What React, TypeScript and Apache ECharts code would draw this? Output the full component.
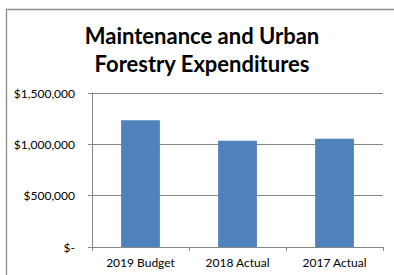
import React, { useEffect, useRef } from "react";
import * as echarts from "echarts";

const categories = ["2019 Budget", "2018 Actual", "2017 Actual"];
const expenditures = [1235000, 1036000, 1055000];
const yTicks = { min: 0, max: 1500000, interval: 500000 };
const titleLines = ["Maintenance and Urban", "Forestry Expenditures"];

const FONT = "Lato, 'Open Sans', sans-serif";

export default function App() {
  const ref = useRef<HTMLDivElement>(null);
  useEffect(() => {
    if (!ref.current) return;
    const chart = echarts.init(ref.current, undefined, { renderer: "svg" });
    chart.setOption({
      animation: false,
      backgroundColor: "#ffffff",
      graphic: [
        {
          type: "polyline",
          shape: { points: [[6.5, 280], [6.5, 9.5], [400, 9.5]] },
          style: { fill: "none", stroke: "#8c8c8c", lineWidth: 1.3 },
          silent: true,
        },
        {
          type: "text",
          x: 202,
          y: 21,
          style: {
            text: titleLines.join("\n"),
            fontFamily: FONT,
            fontWeight: "bold",
            fontSize: 22,
            lineHeight: 28,
            fill: "#000",
            align: "center",
            verticalAlign: "top",
          },
        },
      ],
      grid: { left: 92, right: 11, top: 93, bottom: 28, containLabel: false },
      xAxis: {
        type: "category",
        data: categories,
        axisLine: { show: true, lineStyle: { color: "#868686", width: 1 } },
        axisTick: { show: true, length: 4, alignWithLabel: false, lineStyle: { color: "#868686" } },
        axisLabel: { color: "#000", fontFamily: FONT, fontSize: 12, margin: 9 },
      },
      yAxis: {
        type: "value",
        min: yTicks.min,
        max: yTicks.max,
        interval: yTicks.interval,
        axisLine: { show: true, lineStyle: { color: "#868686", width: 1 } },
        axisTick: { show: true, length: 4, lineStyle: { color: "#868686" } },
        splitLine: { show: true, lineStyle: { color: "#868686", width: 1 } },
        axisLabel: {
          color: "#000",
          fontFamily: FONT,
          fontSize: 12,
          margin: 17,
          formatter: (v: number) => (v === 0 ? "$-" : "$" + v.toLocaleString("en-US")),
        },
      },
      series: [
        {
          type: "bar",
          data: expenditures,
          barWidth: "40%",
          itemStyle: { color: "#4F81BD" },
        },
      ],
    });
    return () => chart.dispose();
  }, []);
  return (
    <div
      ref={ref}
      style={{ position: "fixed", left: 0, top: 0, width: 394, height: 275 }}
    />
  );
}
